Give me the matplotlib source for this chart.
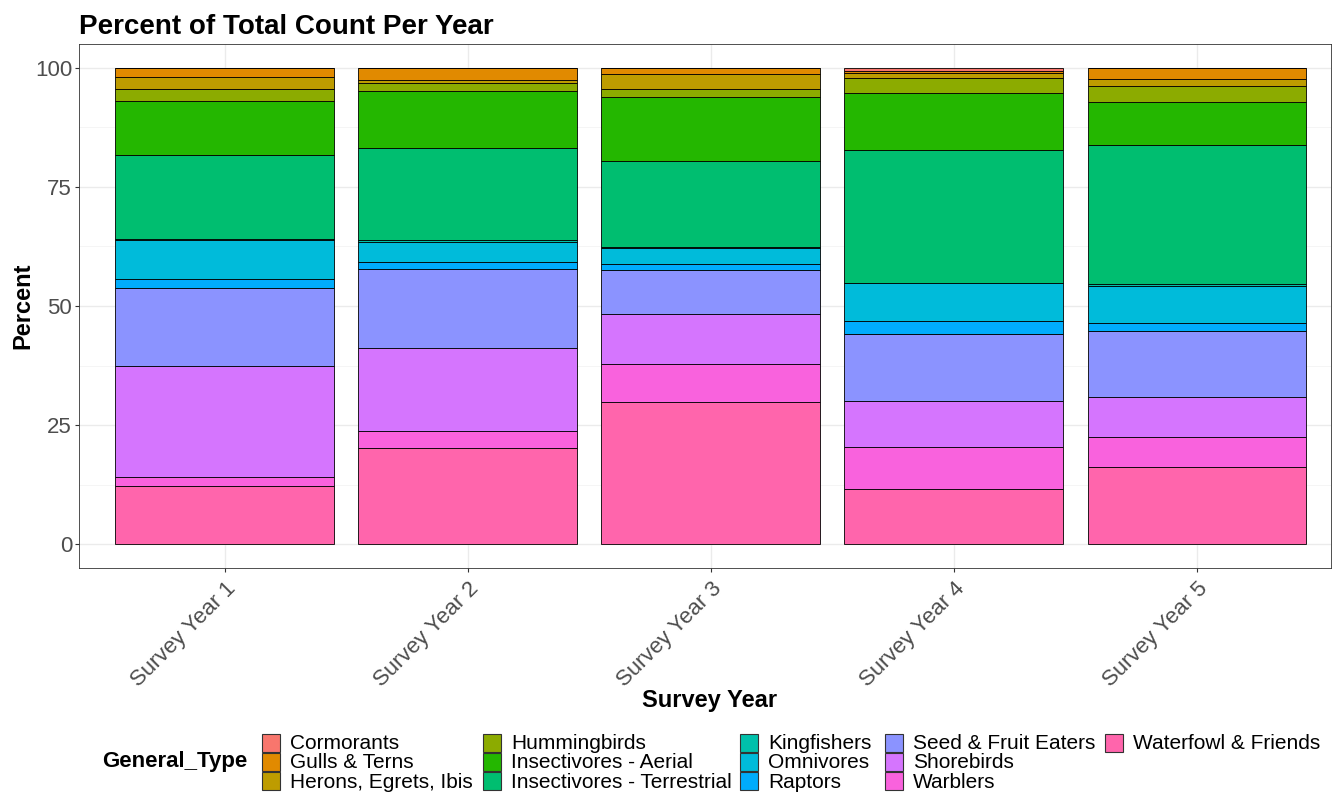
import matplotlib

matplotlib.use("Agg")
import matplotlib.pyplot as plt
from matplotlib.patches import Rectangle
import numpy as np

plt.rcParams["font.family"] = ["Liberation Sans", "DejaVu Sans"]

W, H = 1332, 793

# --- data (percent of yearly total) ---
years = ["Survey Year 1", "Survey Year 2", "Survey Year 3", "Survey Year 4", "Survey Year 5"]
types = [
    "Cormorants", "Gulls & Terns", "Herons, Egrets, Ibis", "Hummingbirds",
    "Insectivores - Aerial", "Insectivores - Terrestrial", "Kingfishers",
    "Omnivores", "Raptors", "Seed & Fruit Eaters", "Shorebirds", "Warblers",
    "Waterfowl & Friends",
]
cormorants = [0.0, 0.0, 0.0, 0.6, 0.0]
gulls = [1.9, 2.5, 1.3, 0.5, 2.3]
herons = [2.5, 0.7, 3.2, 1.0, 1.5]
hummingbirds = [2.6, 1.7, 1.6, 3.1, 3.3]
insect_aerial = [11.2, 11.9, 13.5, 12.0, 9.0]
insect_terr = [17.8, 19.4, 18.0, 27.9, 29.3]
kingfishers = [0.2, 0.3, 0.3, 0.0, 0.3]
omnivores = [8.2, 4.2, 3.2, 8.1, 7.8]
raptors = [1.9, 1.5, 1.3, 2.6, 1.8]
seed_fruit = [16.3, 16.7, 9.2, 14.2, 13.9]
shorebirds = [23.4, 17.4, 10.5, 9.7, 8.2]
warblers = [1.8, 3.6, 8.1, 8.8, 6.5]
waterfowl = [12.2, 20.1, 29.8, 11.5, 16.1]

series = [cormorants, gulls, herons, hummingbirds, insect_aerial, insect_terr,
          kingfishers, omnivores, raptors, seed_fruit, shorebirds, warblers, waterfowl]

# ggplot2 default hue palette for 13 levels
colors = ["#F8766D", "#E18A00", "#BE9C00", "#8CAB00", "#24B700", "#00BE70",
          "#00C1AB", "#00BBDA", "#00ACFC", "#8B93FF", "#D575FE", "#F962DD", "#FF65AC"]


def fx(x):
    return x / W


def fy(y):
    return 1 - y / H


fig = plt.figure(figsize=(W / 100, H / 100), dpi=100)
ax = fig.add_axes([fx(79), fy(568), (1331 - 79) / W, (568 - 44) / H])

xpos = np.arange(1, len(years) + 1)
bottom = np.zeros(len(years))
# first level sits on top, like position_stack in ggplot
for vals, col in zip(series[::-1], colors[::-1]):
    ax.bar(xpos, vals, width=0.9, bottom=bottom, color=col,
           edgecolor="black", linewidth=0.6, zorder=3)
    bottom += np.array(vals)

# the original panel is clipped a little on the right
ax.set_xlim(0.4, 5.552)
ax.set_ylim(-5, 105)
ax.set_yticks([0, 25, 50, 75, 100])
ax.set_yticks([12.5, 37.5, 62.5, 87.5], minor=True)
ax.set_xticks(xpos)
ax.set_xticklabels(years, rotation=45, ha="right", va="top", rotation_mode="anchor")

ax.grid(True, which="major", color="#EBEBEB", linewidth=1.0, zorder=0)
ax.grid(True, which="minor", axis="y", color="#F4F4F4", linewidth=0.6, zorder=0)
ax.set_axisbelow(True)
ax.tick_params(axis="both", which="major", length=3, width=0.8, color="#333333",
               labelcolor="#4D4D4D", labelsize=16)
ax.tick_params(axis="y", pad=2)
ax.tick_params(axis="x", pad=4)
ax.tick_params(which="minor", length=0)
for s in ax.spines.values():
    s.set_color("#333333")
    s.set_linewidth(0.6)

fig.text(fx(79), fy(33.5), "Percent of Total Count Per Year", fontsize=20,
         fontweight="bold", ha="left", va="baseline")
fig.text(fx(23), fy(306), "Percent", fontsize=17, fontweight="bold",
         rotation=90, ha="center", va="center")
fig.text(fx(710), fy(701), "Survey Year", fontsize=17, fontweight="bold",
         ha="center", va="center")

# --- legend, laid out like ggplot's bottom legend (3 rows, filled by column) ---
key_x = [262, 483, 740, 885, 1105]
row_y = [742.5, 761.7, 781.0]
key_w, key_h = 17.5, 18
fig.text(fx(102), fy(762), "General_Type", fontsize=16, fontweight="bold",
         ha="left", va="center")
for i, (name, col) in enumerate(zip(types, colors)):
    c, r = divmod(i, 3)
    x0 = key_x[c]
    yc = row_y[r]
    fig.add_artist(Rectangle((fx(x0), fy(yc + key_h / 2)), key_w / W, key_h / H,
                             transform=fig.transFigure, facecolor=col,
                             edgecolor="#333333", linewidth=0.8))
    fig.text(fx(x0 + 28), fy(yc + 1), name, fontsize=15, ha="left", va="center")

fig.savefig("out.png", dpi=100)
